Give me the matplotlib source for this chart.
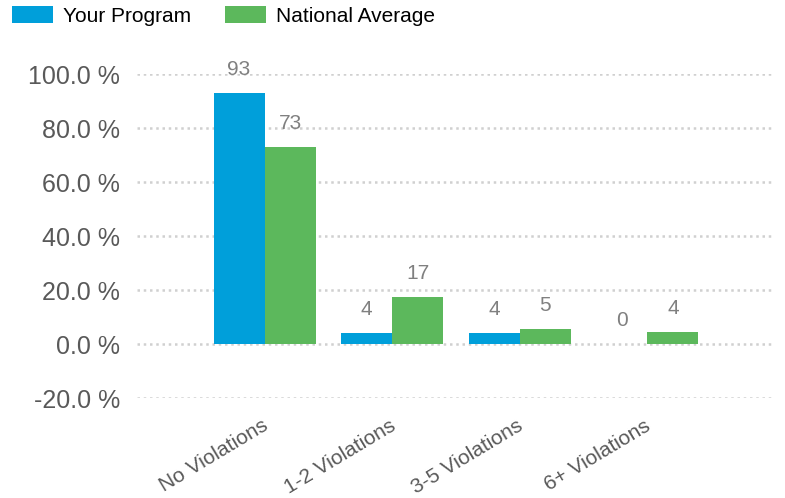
import matplotlib
matplotlib.use("Agg")
import matplotlib.pyplot as plt
import numpy as np

categories = ["No Violations", "1-2 Violations", "3-5 Violations", "6+ Violations"]
your_program = [93, 4, 4, 0]
national_avg = [73, 17.4, 5.4, 4.4]
series_names = ["Your Program", "National Average"]
yticks = [-20, 0, 20, 40, 60, 80, 100]

plt.rcParams['font.family'] = ['Liberation Sans', 'DejaVu Sans']

fig = plt.figure(figsize=(7.85, 4.98), dpi=100)
ax = fig.add_axes([137/785, 1 - 398/498, (775-137)/785, (398-74)/498])

x = np.arange(len(categories))
w = 0.4
blue = "#009FDA"
green = "#5CB85C"
b1 = ax.bar(x - w/2, your_program, w, color=blue, label=series_names[0], zorder=3)
b2 = ax.bar(x + w/2, national_avg, w, color=green, label=series_names[1], zorder=3)

for bars, vals in ((b1, your_program), (b2, national_avg)):
    for r, v in zip(bars, vals):
        ax.annotate(f"{round(v):d}", (r.get_x() + r.get_width()/2, v),
                    xytext=(0, 17), textcoords="offset points",
                    ha="center", va="center", fontsize=15, color="#808080",
                    annotation_clip=False)

ax.set_xlim(-1, len(categories))
ax.set_ylim(-20, 100)
ax.set_yticks(yticks)
ax.set_yticklabels([f"{t:.1f} %" for t in yticks], fontsize=18, color="#595959")
ax.set_xticks(x + 0.0)
ax.set_xticklabels(categories, rotation=31, ha="right", rotation_mode="anchor",
                   fontsize=15, color="#595959")
ax.tick_params(axis="both", length=0)
ax.tick_params(axis="y", pad=12)
ax.tick_params(axis="x", pad=13)
offset = matplotlib.transforms.ScaledTranslation(-3/100, 0, fig.dpi_scale_trans)
for lbl in ax.get_xticklabels():
    lbl.set_transform(lbl.get_transform() + offset)
for s in ax.spines.values():
    s.set_visible(False)
ax.yaxis.grid(True, linestyle=(0, (1, 1.5)), color="#D0D0D0", linewidth=1.8, zorder=0)
ax.set_axisbelow(True)

leg = fig.legend(handles=[b1, b2], loc="upper left", bbox_to_anchor=(12/785, 1 - 6/498),
                 ncol=2, frameon=False, fontsize=15, handlelength=1.97, handleheight=0.87,
                 columnspacing=1.6, handletextpad=0.48, borderpad=0, borderaxespad=0)

fig.savefig("out.png", dpi=100)
